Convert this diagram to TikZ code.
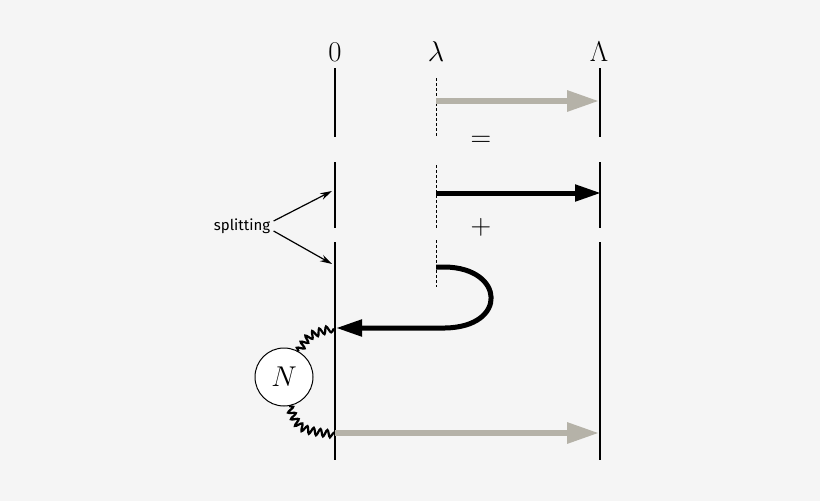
\documentclass[tikz,border=0pt]{standalone}
\usetikzlibrary{arrows.meta,decorations.pathmorphing}
\usepackage{fontspec}
\setsansfont{Fira Sans}
\definecolor{bg}{HTML}{F5F5F5}
\definecolor{gr}{HTML}{B5B2A8}
\newcommand{\bigsym}[1]{\scalebox{1.15}{\Huge$#1$}}
\begin{document}
\begin{tikzpicture}[x=1pt,y=-1pt,
 vline/.style={line width=1.5pt},
 dline/.style={densely dashed,line width=0.7pt},
 grarrow/.style={gr,line width=6pt,-{Triangle[length=32pt,width=20pt]}},
 bkarrow/.style={black,line width=5pt,-{Triangle[length=26pt,width=16pt]}},
 thinarrow/.style={line width=1.2pt,-{Stealth[length=12pt,width=7pt]}},
 wig/.style={line width=2.2pt,decorate,decoration={snake,amplitude=3.5pt,segment length=7pt}},
 lbl/.style={inner sep=0pt}]
\fill[bg] (0,0) rectangle (820,501);
\useasboundingbox (0,0) rectangle (820,501);
\node[lbl] (l0) at (335,52) {\bigsym{0}};
\node[lbl] (ll) at (436,52) {\bigsym{\lambda}};
\node[lbl] (lL) at (599,52) {\bigsym{\Lambda}};
\foreach \a/\b in {68/137,162/228,242/460}{
 \draw[vline] (335,\a) -- (335,\b);
 \draw[vline] (600,\a) -- (600,\b);}
\draw[dline] (436,78) -- (436,137);
\draw[dline] (436,165) -- (436,228);
\draw[dline] (436,240) -- (436,287);
\coordinate (g1s) at (436,101); \coordinate (g1e) at (599,101);
\draw[grarrow] (g1s) -- (g1e);
\node[lbl] (eq) at (481,141) {\bigsym{=}};
\coordinate (b1s) at (436,193); \coordinate (b1e) at (601,193);
\draw[bkarrow] (b1s) -- (b1e);
\node[lbl] (pl) at (481,227) {\bigsym{+}};
\coordinate (us) at (436,267); \coordinate (ue) at (336,328);
\draw[bkarrow] (us) -- (445,267) .. controls (505,268) and (508,327) .. (445,328) -- (ue);
\node[circle,draw,fill=white,minimum size=58pt,inner sep=0pt,line width=1pt] (N) at (284,377) {\bigsym{N}};
\coordinate (w1) at (335,329); \coordinate (w2) at (335,433);
\draw[wig] (N.60) .. controls (308,336) .. (w1);
\draw[wig] (N.-80) .. controls (298,428) .. (w2);
\coordinate (g2e) at (599,433);
\draw[grarrow] (w2) -- (g2e);
\node[font=\sffamily\fontsize{15}{17}\selectfont] (sp) at (242,226) {splitting};
\coordinate (s1) at (332,191); \coordinate (s2) at (332,264);
\draw[thinarrow] (sp.east) ++(0,-5) -- (s1);
\draw[thinarrow] (sp.east) ++(0,5) -- (s2);
\end{tikzpicture}
\end{document}
